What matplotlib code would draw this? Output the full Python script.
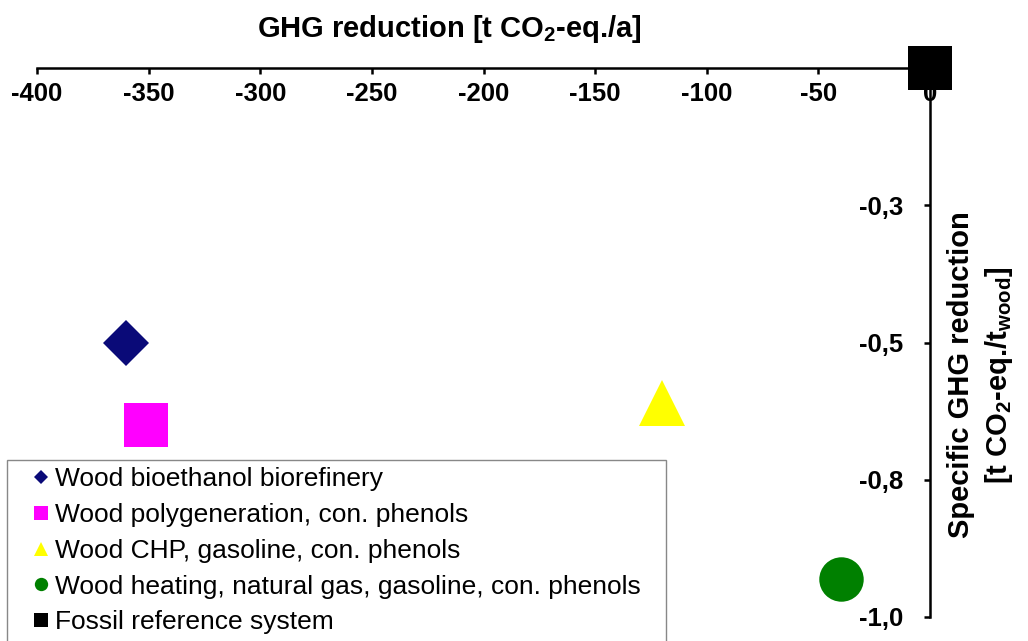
import matplotlib.pyplot as plt
from matplotlib.patches import Rectangle

plt.rcParams['font.family'] = ['Liberation Sans', 'DejaVu Sans']
plt.rcParams['mathtext.fontset'] = 'custom'
plt.rcParams['mathtext.rm'] = 'Liberation Sans'
plt.rcParams['mathtext.bf'] = 'Liberation Sans:bold'

# data
systems = ['Wood bioethanol biorefinery',
           'Wood polygeneration, con. phenols',
           'Wood CHP, gasoline, con. phenols',
           'Wood heating, natural gas, gasoline, con. phenols',
           'Fossil reference system']
ghg_reduction = [-360, -351, -120, -40, 0]              # t CO2-eq./a
specific_reduction = [-0.50, -0.65, -0.61, -0.93, 0.0]  # t CO2-eq./t wood
markers = ['D', 's', '^', 'o', 's']
colors = ['#0a0a78', '#ff00ff', '#ffff00', '#008000', '#000000']
sizes = [23, 32, 33, 32, 32]

x_ticks = [-400, -350, -300, -250, -200, -150, -100, -50, 0]
x_tick_labels = ['-400', '-350', '-300', '-250', '-200', '-150', '-100', '-50', '0']
y_ticks = [-1.0, -0.75, -0.5, -0.25]
y_tick_labels = ['-1,0', '-0,8', '-0,5', '-0,3']

W, H = 1028, 641
fig = plt.figure(figsize=(W / 100, H / 100), dpi=100)
ax = fig.add_axes([37 / W, 24 / H, 893 / W, 549 / H])

for name, x, y, m, c, s in zip(systems, ghg_reduction, specific_reduction, markers, colors, sizes):
    ax.plot([x], [y], linestyle='none', marker=m, color=c, markersize=s,
            markeredgewidth=0, label=name, clip_on=False, zorder=5)

ax.set_xlim(-400, 0)
ax.set_ylim(-1.0, 0)

# Excel-style axes crossing at the origin (top right corner)
ax.spines['bottom'].set_position(('data', 0))
ax.spines['left'].set_position(('data', 0))
ax.spines['top'].set_visible(False)
ax.spines['right'].set_visible(False)
for sp in ('bottom', 'left'):
    ax.spines[sp].set_linewidth(1.8)

ax.set_xticks(x_ticks)
ax.set_xticklabels(x_tick_labels, fontsize=18.5, fontweight='bold')
ax.set_yticks(y_ticks)
ax.set_yticklabels(y_tick_labels, fontsize=18.5, fontweight='bold')
ax.tick_params(axis='both', direction='out', length=4, width=1.8)
ax.tick_params(axis='x', pad=6)
ax.tick_params(axis='y', pad=15)
ax.patch.set_visible(False)

fig.text(449 / W, 1 - 29 / H, r'GHG reduction [t CO$_\mathbf{2}$-eq./a]',
         ha='center', va='center', fontsize=21, fontweight='bold')
fig.text(981 / W, 1 - 375 / H,
         'Specific GHG reduction\n' + r'[t CO$_\mathbf{2}$-eq./t$_\mathbf{wood}$]',
         ha='center', va='center', rotation=90, fontsize=21, fontweight='bold',
         multialignment='center', linespacing=1.3)

# legend box runs off the bottom edge, as in the reference
box_top = 460
fig.patches.append(Rectangle((7 / W, -10 / H), 659 / W, (H - box_top + 10) / H,
                             transform=fig.transFigure, facecolor='white',
                             edgecolor='#888888', linewidth=1.0, zorder=3))

leg = fig.legend(loc='upper left', bbox_to_anchor=(30 / W, 1 - 467 / H),
                 fontsize=19, markerscale=0.3, handlelength=0.8, handletextpad=0.15,
                 labelspacing=0.45, borderpad=0, borderaxespad=0, frameon=False)
leg.set_zorder(4)

fig.savefig('out.png', dpi=100)
